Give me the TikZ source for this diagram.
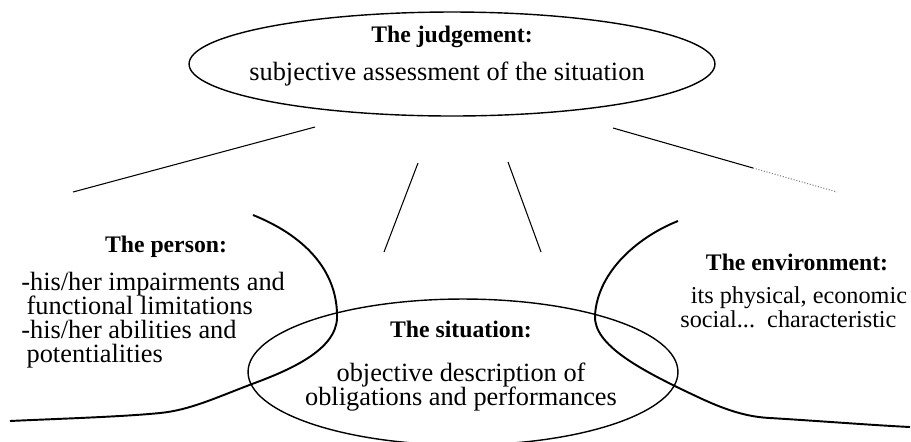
\documentclass[tikz,border=0pt]{standalone}
\usepackage{fontspec}
\setmainfont{Liberation Serif}
\usepackage{tikz}
\usetikzlibrary{shapes.geometric}
\setlength{\lineskiplimit}{-20pt}

\begin{document}
\begin{tikzpicture}[
    x=0.02cm, y=-0.02cm,
    bubble/.style={ellipse, draw, line width=0.8pt, inner sep=0pt},
    title/.style={font=\fontsize{13.5}{15}\selectfont\bfseries, inner sep=0pt},
    body/.style={font=\fontsize{15}{13.7}\selectfont, inner sep=0pt},
    ray/.style={line width=0.6pt},
    border/.style={line width=1.1pt}
]
\useasboundingbox (0,0) rectangle (911,441);

% The judgement
\node[bubble, minimum width=10.52cm, minimum height=2.08cm] (judge) at (452,64) {};
\node[title] (judgeTitle) at (452,37) {The judgement:};
\node[body] (judgeText) at (447,74) {subjective assessment of the situation};

% Rays below the judgement
\coordinate (rayA1) at (315,127);
\coordinate (rayA2) at (73,192);
\coordinate (rayB1) at (418,163);
\coordinate (rayB2) at (384,252);
\coordinate (rayC1) at (508,162);
\coordinate (rayC2) at (541,252);
\coordinate (rayD1) at (613,128);
\coordinate (rayDm) at (753,168);
\coordinate (rayD2) at (837,192);
\draw[ray] (rayA1) -- (rayA2);
\draw[ray] (rayB1) -- (rayB2);
\draw[ray] (rayC1) -- (rayC2);
\draw[ray] (rayD1) -- (rayDm);
\draw[ray, densely dotted, gray] (rayDm) -- (rayD2);

% The situation
\node[bubble, minimum width=8.6cm, minimum height=2.92cm] (sit) at (463,372) {};
\node[title, anchor=base] (sitTitle) at (461,337) {The situation:};
\node[body, align=center, anchor=north] (sitText) at (461,363)
    {objective description of\\ obligations and performances};

% The person
\draw[border] (253,215) .. controls (310,238) and (338,275) .. (337,318)
    .. controls (336,350) and (290,370) .. (252,384)
    .. controls (215,398) and (190,410) .. (160,413)
    .. controls (120,417) and (50,419) .. (10,421);
\node[title, anchor=base] (personTitle) at (166,252) {The person:};
\node[body, align=left, anchor=north west] (personText) at (21,272)
    {-his/her impairments and\\ \hspace*{3pt}functional limitations\\
     -his/her abilities and\\ \hspace*{3pt}potentialities};

% The environment
\draw[border] (678,221) .. controls (640,236) and (598,270) .. (595,315)
    .. controls (593,345) and (640,370) .. (700,398)
    .. controls (730,412) and (750,417) .. (770,418)
    .. controls (820,421) and (870,425) .. (910,427);
\node[title, anchor=base] (envTitle) at (797,270) {The environment:};
\node[body, font=\fontsize{13.8}{13.7}\selectfont, align=left, anchor=north west] (envText) at (680,286)
    {\hspace*{6pt}its physical, economic\\ social...~~characteristic};

\end{tikzpicture}
\end{document}
